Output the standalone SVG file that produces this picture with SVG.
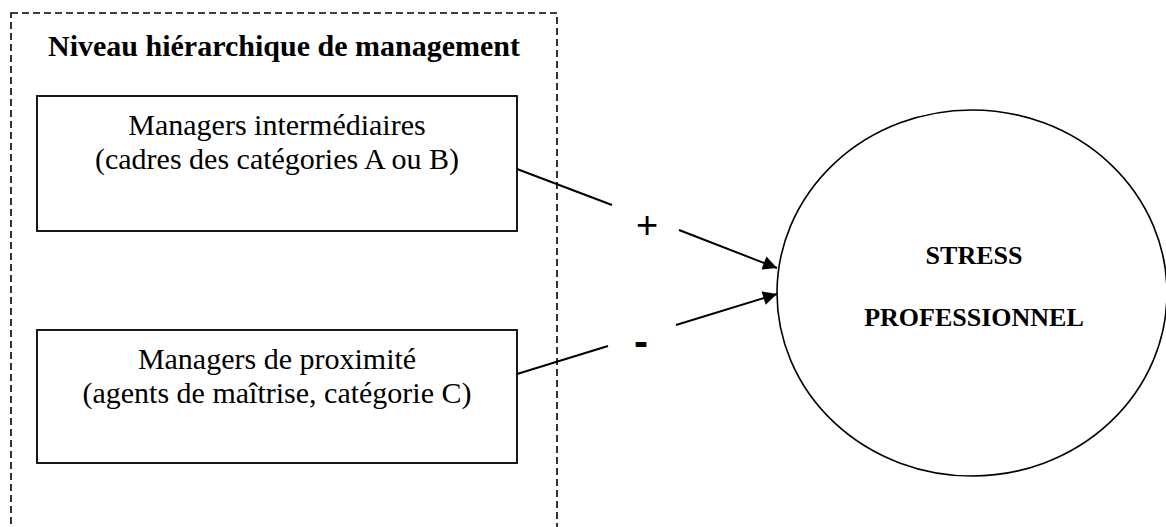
<svg xmlns="http://www.w3.org/2000/svg" width="1166" height="527" viewBox="0 0 1166 527">
  <style>
    .frame { fill: none; stroke: #000; stroke-width: 1.6; stroke-dasharray: 7 4; }
    .box { fill: #fff; stroke: #000; stroke-width: 1.8; }
    .ell { fill: #fff; stroke: #000; stroke-width: 1.6; }
    .lbl { font-family: "Liberation Serif", "Times New Roman", serif; fill: #000; text-anchor: middle; }
    .title { font-size: 30px; font-weight: bold; }
    .body { font-size: 30px; }
    .core { font-size: 26px; font-weight: bold; }
    .sign { font-family: "Liberation Sans", Arial, sans-serif; fill: #000; text-anchor: middle; }
    .link { stroke: #000; stroke-width: 2; fill: none; }
  </style>
  <defs>
    <marker id="arrow" viewBox="0 0 10 10" refX="10" refY="5" markerUnits="userSpaceOnUse" markerWidth="17" markerHeight="14" orient="auto">
      <path d="M0,0 L10,5 L0,10 Z" fill="#000"/>
    </marker>
  </defs>

  <rect width="1166" height="527" fill="#fff"/>

  <!-- dashed grouping frame with its heading -->
  <g id="level-group">
    <rect class="frame" x="11" y="13" width="546" height="540"/>
    <text class="lbl title" x="284" y="56">Niveau hiérarchique de management</text>
  </g>

  <g id="middle-managers">
    <rect class="box" x="37" y="96" width="480" height="135"/>
    <text class="lbl body" x="277" y="135">Managers intermédiaires</text>
    <text class="lbl body" x="277" y="169">(cadres des catégories A ou B)</text>
  </g>

  <g id="local-managers">
    <rect class="box" x="37" y="330" width="480" height="133"/>
    <text class="lbl body" x="277" y="369">Managers de proximité</text>
    <text class="lbl body" x="277" y="403">(agents de maîtrise, catégorie C)</text>
  </g>

  <g id="stress">
    <ellipse class="ell" cx="972" cy="293" rx="195" ry="183"/>
    <text class="lbl core" x="974" y="264">STRESS</text>
    <text class="lbl core" x="974" y="326">PROFESSIONNEL</text>
  </g>

  <g id="connectors">
    <line class="link" x1="517" y1="169" x2="612" y2="205"/>
    <line class="link" x1="679" y1="230" x2="777" y2="268" marker-end="url(#arrow)"/>
    <text class="sign" x="647" y="238" font-size="38">+</text>
    <line class="link" x1="517" y1="374" x2="608" y2="346"/>
    <line class="link" x1="676" y1="325" x2="777" y2="294" marker-end="url(#arrow)"/>
    <text class="sign" x="641" y="356" font-size="42" font-weight="bold">-</text>
  </g>
</svg>
